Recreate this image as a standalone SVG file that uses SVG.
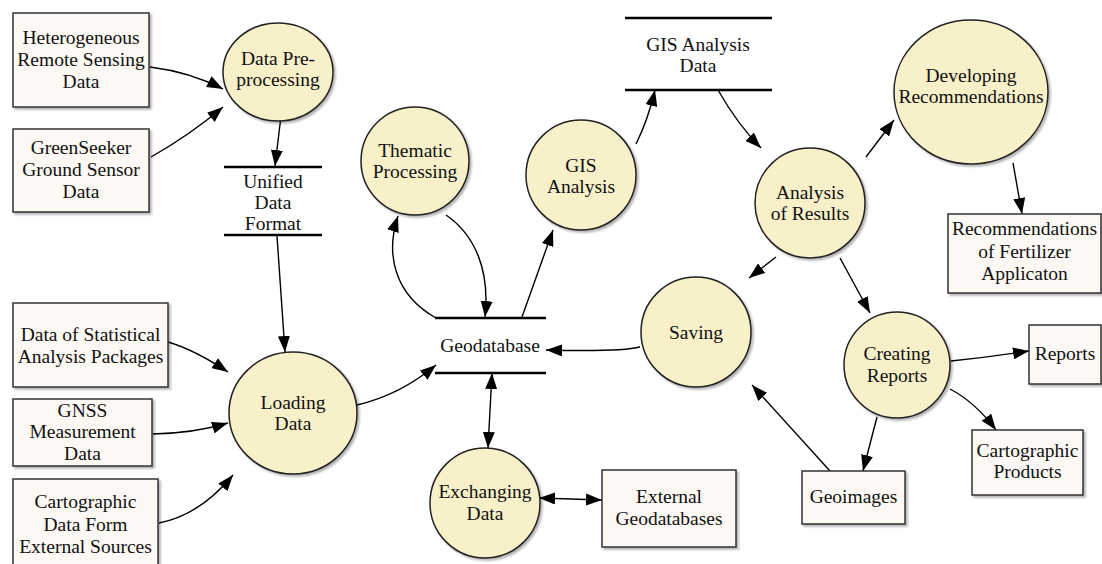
<svg xmlns="http://www.w3.org/2000/svg" width="1102" height="564" viewBox="0 0 1102 564">
<defs>
<style>
text{font-family:'Liberation Serif','Times New Roman','DejaVu Serif',serif;font-size:19.5px;fill:#111;text-anchor:middle}
.box{fill:#fcf8f4;stroke:#333;stroke-width:1.5;filter:url(#sh)}
.proc{fill:#f8f0c9;stroke:#222;stroke-width:1.5;filter:url(#sh)}
.store{stroke:#000;stroke-width:2.5}
.c{fill:none;stroke:#000;stroke-width:1.4;marker-end:url(#a)}
.d{marker-start:url(#a)}
</style>
<filter id="sh" x="-10%" y="-10%" width="130%" height="130%"><feDropShadow dx="2" dy="2" stdDeviation="1.2" flood-color="#000" flood-opacity="0.3"/></filter>
<marker id="a" viewBox="0 0 16 12" refX="16" refY="6" markerWidth="16" markerHeight="12" orient="auto-start-reverse" markerUnits="userSpaceOnUse"><path d="M0,0 L16,6 L0,12 z" fill="#000"/></marker>
</defs>
<rect width="1102" height="564" fill="#fff"/>
<g id="connectors">
<path class="c" d="M150,67 Q190,72 223,89"/>
<path class="c" d="M151,157 Q190,135 223,107"/>
<path class="c" d="M281,116 L275,166"/>
<path class="c" d="M277,236 L285,352"/>
<path class="c" d="M168,342 Q195,350 228,372"/>
<path class="c" d="M153,434 Q195,433 228,423"/>
<path class="c" d="M159,523 Q200,515 233,475"/>
<path class="c" d="M357,405 Q400,395 436,365"/>
<path class="c" d="M436,318 C395,295 385,255 398,216"/>
<path class="c" d="M446,215 C475,235 490,270 485,317"/>
<path class="c" d="M522,317 L553,230"/>
<path class="c" d="M636,144 Q648,120 655,90"/>
<path class="c" d="M718,90 Q738,125 761,148"/>
<path class="c" d="M866,157 L894,120"/>
<path class="c" d="M1013,163 L1022,214"/>
<path class="c" d="M776,257 L749,278"/>
<path class="c" d="M840,258 L870,313"/>
<path class="c" d="M640,347 Q620,352 546,350"/>
<path class="c d" d="M492,373 L488,448"/>
<path class="c d" d="M539,498 L602,500"/>
<path class="c" d="M951,361 Q990,357 1029,351"/>
<path class="c" d="M950,389 Q975,402 996,430"/>
<path class="c" d="M877,417 L863,471"/>
<path class="c" d="M830,471 L752,385"/>
</g>
<g font-family="Liberation Serif, Times New Roman, DejaVu Serif, serif">
<g id="n-hetero"><rect class="box" x="13" y="13" width="136" height="94"/><text x="81" y="44">Heterogeneous</text><text x="81" y="66">Remote Sensing</text><text x="81" y="88">Data</text></g>
<g id="n-greenseeker"><rect class="box" x="13" y="129" width="136" height="83"/><text x="81" y="154">GreenSeeker</text><text x="81" y="176">Ground Sensor</text><text x="81" y="198">Data</text></g>
<g id="n-stat"><rect class="box" x="13" y="303" width="155" height="84"/><text x="90.5" y="341">Data of Statistical</text><text x="90.5" y="363">Analysis Packages</text></g>
<g id="n-gnss"><rect class="box" x="13" y="399" width="139" height="67"/><text x="82.5" y="417">GNSS</text><text x="82.5" y="438">Measurement</text><text x="82.5" y="460">Data</text></g>
<g id="n-carto"><rect class="box" x="13" y="479" width="145" height="95"/><text x="85.5" y="508">Cartographic</text><text x="85.5" y="531">Data Form</text><text x="85.5" y="553">External Sources</text></g>
<g id="n-preproc"><ellipse class="proc" cx="278" cy="72" rx="55" ry="49"/><text x="278" y="65">Data Pre-</text><text x="278" y="86">processing</text></g>
<g id="n-unified"><line class="store" x1="224" y1="167" x2="322" y2="167"/><line class="store" x1="224" y1="235" x2="322" y2="235"/><text x="273" y="188">Unified</text><text x="273" y="209">Data</text><text x="273" y="230">Format</text></g>
<g id="n-loading"><ellipse class="proc" cx="293" cy="413" rx="64" ry="61"/><text x="293" y="409">Loading</text><text x="293" y="430">Data</text></g>
<g id="n-thematic"><circle class="proc" cx="415" cy="161" r="54"/><text x="415" y="157">Thematic</text><text x="415" y="178">Processing</text></g>
<g id="n-gis"><circle class="proc" cx="581" cy="175" r="55"/><text x="581" y="172">GIS</text><text x="581" y="193">Analysis</text></g>
<g id="n-gisdata"><line class="store" x1="625" y1="18" x2="772" y2="18"/><line class="store" x1="625" y1="90" x2="772" y2="90"/><text x="698" y="51">GIS Analysis</text><text x="698" y="72">Data</text></g>
<g id="n-geodb"><line class="store" x1="435" y1="318" x2="546" y2="318"/><line class="store" x1="435" y1="373" x2="546" y2="373"/><text x="490" y="352">Geodatabase</text></g>
<g id="n-saving"><circle class="proc" cx="696" cy="332" r="55"/><text x="696" y="339">Saving</text></g>
<g id="n-exchanging"><circle class="proc" cx="485" cy="503" r="55"/><text x="485" y="498">Exchanging</text><text x="485" y="520">Data</text></g>
<g id="n-extgeodb"><rect class="box" x="602" y="470" width="134" height="77"/><text x="669" y="503">External</text><text x="669" y="525">Geodatabases</text></g>
<g id="n-results"><circle class="proc" cx="810" cy="203" r="55"/><text x="810" y="199">Analysis</text><text x="810" y="220">of Results</text></g>
<g id="n-developing"><ellipse class="proc" cx="971" cy="92" rx="77" ry="72"/><text x="971" y="82">Developing</text><text x="971" y="103">Recommendations</text></g>
<g id="n-recfert"><rect class="box" x="948" y="214" width="153" height="79"/><text x="1024.5" y="235">Recommendations</text><text x="1024.5" y="258">of Fertilizer</text><text x="1024.5" y="280">Applicaton</text></g>
<g id="n-creating"><circle class="proc" cx="897" cy="365" r="53"/><text x="897" y="360">Creating</text><text x="897" y="382">Reports</text></g>
<g id="n-reports"><rect class="box" x="1029" y="325" width="72" height="59"/><text x="1065" y="360">Reports</text></g>
<g id="n-cartoprod"><rect class="box" x="972" y="430" width="111" height="65"/><text x="1027.5" y="457">Cartographic</text><text x="1027.5" y="478">Products</text></g>
<g id="n-geoimages"><rect class="box" x="802" y="471" width="103" height="53"/><text x="853.5" y="503">Geoimages</text></g>
</g>
</svg>
